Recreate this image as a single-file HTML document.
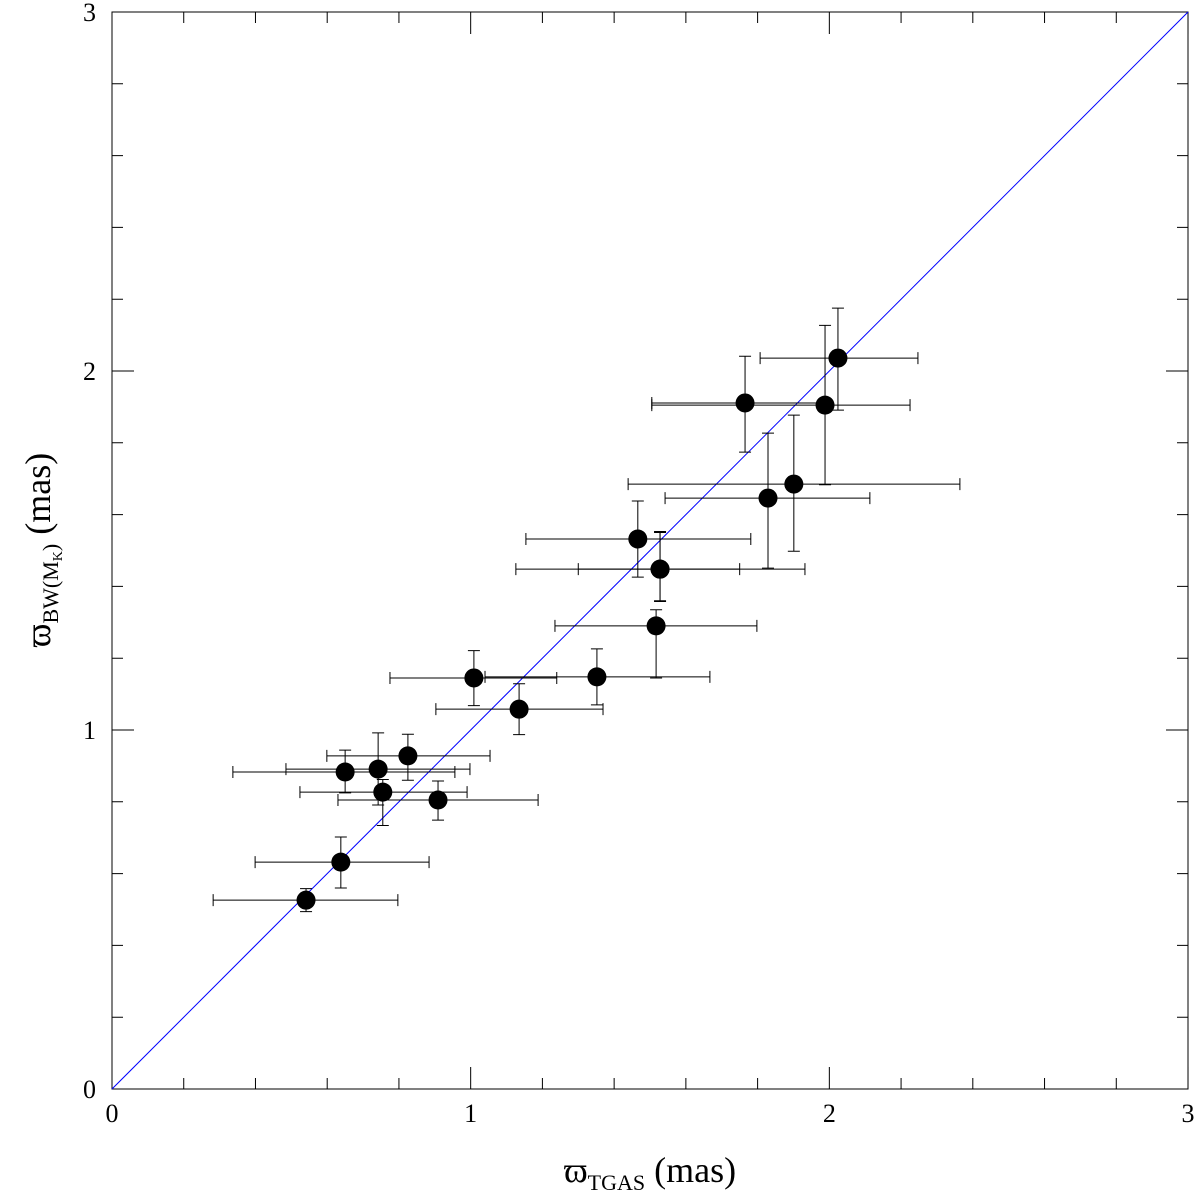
<!DOCTYPE html>
<html><head><meta charset="utf-8"><style>
html,body{margin:0;padding:0;background:#fff;}
svg{display:block;font-family:"Liberation Serif",serif;}
</style></head><body>
<svg id="chart" width="1200" height="1196" viewBox="0 0 1200 1196" xmlns="http://www.w3.org/2000/svg">
<rect x="112" y="12" width="1076" height="1077" fill="none" stroke="#000" stroke-width="1"/>
<g id="ticks"></g><g id="marks"></g>
<text x="650" y="1182" font-size="36" text-anchor="middle">ϖ<tspan font-size="22" dy="8">TGAS</tspan><tspan dy="-8"> (mas)</tspan></text>
<text transform="translate(50,550) rotate(-90)" font-size="36" text-anchor="middle">ϖ<tspan font-size="22" dy="8">BW(M</tspan><tspan font-size="14" dy="4">K</tspan><tspan font-size="22" dy="-4">)</tspan><tspan dy="-8"> (mas)</tspan></text>
</svg>
<script>
const xVals=[0.541,0.638,0.650,0.742,0.755,0.825,0.909,1.009,1.135,1.352,1.517,1.528,1.528,1.466,1.829,1.901,1.765,1.988,2.024];
const yVals=[0.526,0.632,0.883,0.891,0.827,0.928,0.805,1.145,1.058,1.148,1.290,1.448,1.448,1.532,1.646,1.685,1.911,1.905,2.036];
const xLow=[0.282,0.399,0.337,0.485,0.524,0.599,0.630,0.775,0.903,1.040,1.235,1.126,1.300,1.154,1.542,1.439,1.505,1.505,1.807];
const xHigh=[0.797,0.884,0.956,0.998,0.990,1.054,1.188,1.240,1.369,1.667,1.798,1.932,1.750,1.781,2.113,2.364,2.000,2.225,2.247];
const yLow=[0.494,0.560,0.825,0.791,0.734,0.860,0.749,1.068,0.987,1.070,1.145,1.358,1.360,1.426,1.451,1.498,1.774,1.683,1.891];
const yHigh=[0.558,0.702,0.944,0.992,0.862,0.988,0.858,1.221,1.129,1.226,1.335,1.553,1.550,1.638,1.827,1.877,2.041,2.127,2.175];
const tickLabels=["0","1","2","3"];
const NS="http://www.w3.org/2000/svg";
const X=v=>112+v*358.67, Y=v=>1089-v*359;
function mk(tag,attrs,parent){const e=document.createElementNS(NS,tag);for(const k in attrs)e.setAttribute(k,attrs[k]);parent.appendChild(e);return e;}
const tg=document.getElementById('ticks'), mg=document.getElementById('marks');
for(let i=0;i<=15;i++){
  const v=i*0.2, major=i%5===0, L=major?22:11;
  const t1=mk('path',{d:`M${X(v)} 1089V${1089-L}M${X(v)} 12V${12+L}M112 ${Y(v)}H${112+L}M1188 ${Y(v)}H${1188-L}`,stroke:'#000','stroke-width':1,fill:'none'},tg);
  
  
}
tickLabels.forEach((s,i)=>{
  const a=mk('text',{x:X(i),y:1122,'font-size':26,'text-anchor':'middle'},tg);a.textContent=s;
  
  
  const b=mk('text',{x:96,y:Y(i)+9,'font-size':26,'text-anchor':'end'},tg);b.textContent=s;
  
  
});
const ln=mk('line',{x1:X(0),y1:Y(0),x2:X(3),y2:Y(3),stroke:'#0000ff','stroke-width':1},mg);


xVals.forEach((xv,i)=>{
  const cx=X(xv), cy=Y(yVals[i]), c=6;
  const eb=mk('path',{d:`M${X(xLow[i])} ${cy}H${X(xHigh[i])}M${X(xLow[i])} ${cy-c}V${cy+c}M${X(xHigh[i])} ${cy-c}V${cy+c}M${cx} ${Y(yLow[i])}V${Y(yHigh[i])}M${cx-c} ${Y(yLow[i])}H${cx+c}M${cx-c} ${Y(yHigh[i])}H${cx+c}`,stroke:'#000','stroke-width':1,fill:'none'},mg);
  
  
  const p=mk('circle',{cx:cx,cy:cy,r:9.5,fill:'#000'},mg);
  
  
});
</script>
</body></html>
